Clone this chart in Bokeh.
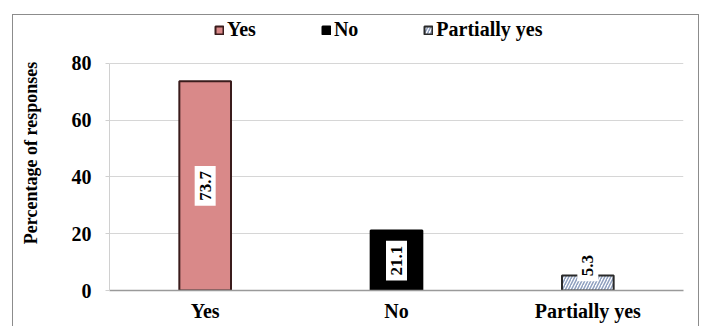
import math

from bokeh.core.properties import value
from bokeh.embed import file_html
from bokeh.layouts import column
from bokeh.models import (ColumnDataSource, FactorRange, FixedTicker,
                          Legend, LegendItem, Range1d)
from bokeh.plotting import figure
from bokeh.resources import INLINE

# Survey answers and their share of responses (%)
categories = ["Yes", "No", "Partially yes"]
values = [73.7, 21.1, 5.3]
y_ticks = [0, 20, 40, 60, 80]

FONT = "Liberation Serif"
INK = "#000000"

# Canvas geometry: the frame runs up to the top so the legend (drawn inside
# the frame) has room above the 0-80 value band.
FIG_W, FIG_H = 687, 312
BORDER = 1.5
BOTTOM = 37
VALUE_BAND_PX = 226          # height taken by 0..80 on screen
frame_h = FIG_H - BORDER - BOTTOM
y_end = y_ticks[-1] * frame_h / VALUE_BAND_PX

p = figure(
    width=FIG_W, height=FIG_H,
    x_range=FactorRange(*categories, range_padding=0),
    y_range=Range1d(0, y_end),
    output_backend="svg", toolbar_location=None,
    min_border_left=96, min_border_right=17,
    min_border_top=0, min_border_bottom=BOTTOM,
)
p.styles = {
    "border-left": f"{BORDER}px solid #8c8c8c",
    "border-top": f"{BORDER}px solid #8c8c8c",
    "border-right": f"{BORDER}px solid #8c8c8c",
    "box-sizing": "border-box",
}

bar_w = 0.27
r_yes = p.vbar(x=[categories[0]], top=[values[0]], width=bar_w,
               fill_color="#d98989", line_color="#3a1c1c", line_width=2)
r_no = p.vbar(x=[categories[1]], top=[values[1]], width=bar_w,
              fill_color="#000000", line_color="#000000", line_width=2)
r_part = p.vbar(x=[categories[2]], top=[values[2]], width=bar_w,
                fill_color="#ffffff", line_color="#2a2a2a", line_width=2,
                hatch_pattern="/", hatch_color="#8e9fbf",
                hatch_scale=6, hatch_weight=1.5)

# Value labels: centred in tall bars, just above short ones
label_y = [v / 2 if v > 10 else v + 3.5 for v in values]
lab_src = ColumnDataSource(dict(
    x=categories, y=label_y, text=[f"{v:.1f}" for v in values]))
p.text(
    source=lab_src, x="x", y="y", text="text", angle=math.pi / 2,
    text_align="center", text_baseline="middle",
    text_font=value(FONT), text_font_style="bold", text_font_size="17px",
    text_color=INK, background_fill_color="#ffffff", padding=5,
)

legend = Legend(
    items=[LegendItem(label="Yes", renderers=[r_yes]),
           LegendItem(label="No", renderers=[r_no]),
           LegendItem(label="Partially yes", renderers=[r_part])],
    orientation="horizontal", location=(105, 249),
    glyph_width=10, glyph_height=10, label_standoff=3, spacing=65,
    padding=0, margin=0, border_line_color=None, background_fill_alpha=0,
    label_text_font=FONT, label_text_font_style="bold",
    label_text_font_size="20px", label_text_color=INK,
)
p.add_layout(legend)

# Axes and grid
p.yaxis.ticker = FixedTicker(ticks=y_ticks)
p.yaxis.bounds = (y_ticks[0], y_ticks[-1])
p.yaxis.axis_label = "Percentage of responses"
p.yaxis.axis_label_text_font = FONT
p.yaxis.axis_label_text_font_style = "bold"
p.yaxis.axis_label_text_font_size = "18px"
p.yaxis.axis_label_text_color = INK
p.yaxis.axis_label_standoff = 28
p.yaxis.major_label_text_font = FONT
p.yaxis.major_label_text_font_style = "bold"
p.yaxis.major_label_text_font_size = "20px"
p.yaxis.major_label_text_color = INK
p.yaxis.major_label_standoff = 14
p.yaxis.axis_line_color = "#d0d0d0"
p.yaxis.major_tick_line_color = "#d0d0d0"
p.yaxis.major_tick_out = 4
p.yaxis.major_tick_in = 0
p.yaxis.minor_tick_line_color = None

p.xaxis.axis_line_color = "#9a9a9a"
p.xaxis.axis_line_width = 1.5
p.xaxis.major_tick_line_color = None
p.xaxis.major_label_text_font = FONT
p.xaxis.major_label_text_font_style = "bold"
p.xaxis.major_label_text_font_size = "20px"
p.xaxis.major_label_text_color = INK
p.xaxis.major_label_standoff = 3

p.xgrid.grid_line_color = None
p.ygrid.grid_line_color = "#d6d6d6"
p.outline_line_color = None

page = column(p, styles={"padding-left": "12px", "padding-top": "14px"})

open("out.html", "w").write(file_html(page, INLINE))
